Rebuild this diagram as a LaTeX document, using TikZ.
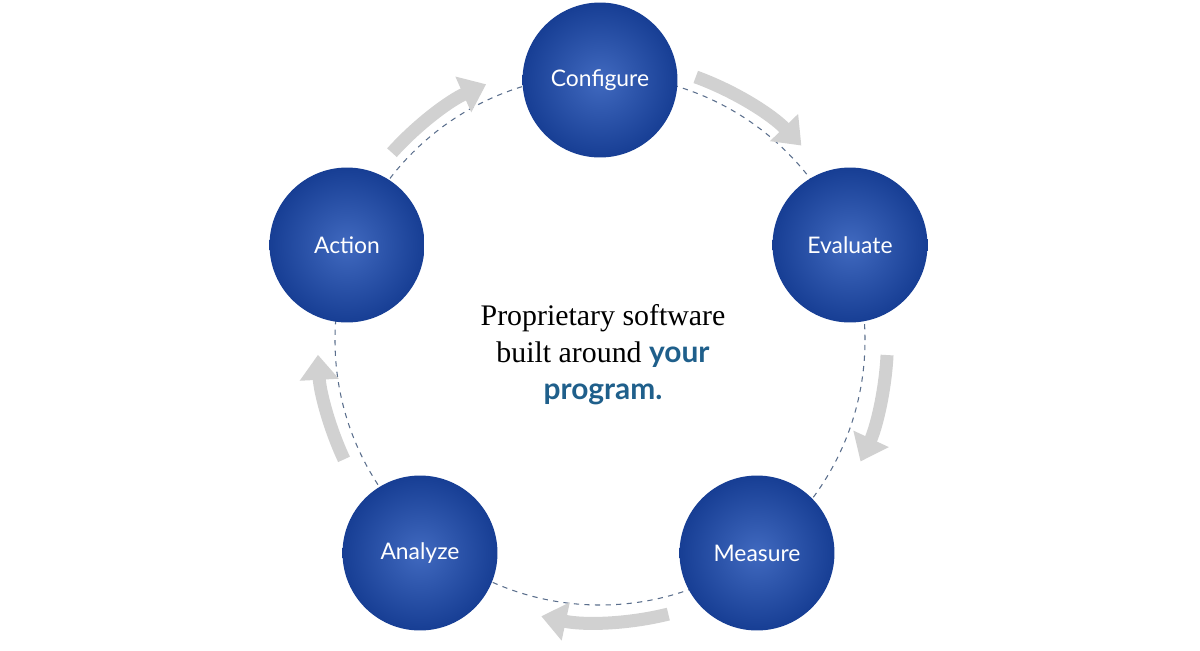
\documentclass[tikz,border=0pt]{standalone}
\usepackage{fontspec}
\setmainfont{Liberation Serif}
\newfontfamily\labelfont{Lato}
\usetikzlibrary{arrows.meta,calc}
\definecolor{ballblue}{HTML}{1F4FB4}
\definecolor{balldark}{HTML}{173E94}
\definecolor{progblue}{HTML}{1F5F8B}
\definecolor{ringgray}{HTML}{5A6E8C}

\begin{document}
\begin{tikzpicture}[x=0.02cm, y=-0.02cm,
		ball_style/.style={circle,minimum size=3.1cm,inner sep=0pt,
			shading=radial,inner color=ballblue!85!white,outer color=balldark,
			text=white,font=\labelfont\fontsize{13}{15}\selectfont},
		ring_style/.style={draw=ringgray,dashed,line width=0.6pt},
		flow_style/.style={draw=black!18,line width=0.26cm,
			-{Triangle[width=0.75cm,length=0.5cm]}}]

		\useasboundingbox (0,0) rectangle (1200,650);
		\coordinate (c) at (600,340);
		\draw[ring_style] (c) circle[radius=265*0.02cm];

		% arrows between stages
		\draw[flow_style] ($(c)+(70:5.6cm)$) arc[start angle=70,end angle=44,radius=5.6cm];
		\draw[flow_style] ($(c)+(-3:5.75cm)$) arc[start angle=-3,end angle=-25,radius=5.75cm];
		\draw[flow_style] ($(c)+(-76:5.65cm)$) arc[start angle=-76,end angle=-102,radius=5.65cm];
		\draw[flow_style] ($(c)+(205:5.65cm)$) arc[start angle=205,end angle=183,radius=5.65cm];
		\draw[flow_style] ($(c)+(138:5.6cm)$) arc[start angle=138,end angle=114,radius=5.6cm];

		\node[ball_style] (configure) at (600,80)  {Configure};
		\node[ball_style] (evaluate) at (850,245)  {Evaluate};
		\node[ball_style] (measure) at (757,553)  {Measure};
		\node[ball_style] (analyze) at (420,553)  {Analyze};
		\node[ball_style] (action) at (347,245)  {Action};

		\node[align=center,font=\fontsize{17}{21}\selectfont] (centre) at (603,355)
			{Proprietary software\\built around {\labelfont\bfseries\color{progblue}your}\\
			{\labelfont\bfseries\color{progblue}program.}};
\end{tikzpicture}
\end{document}
